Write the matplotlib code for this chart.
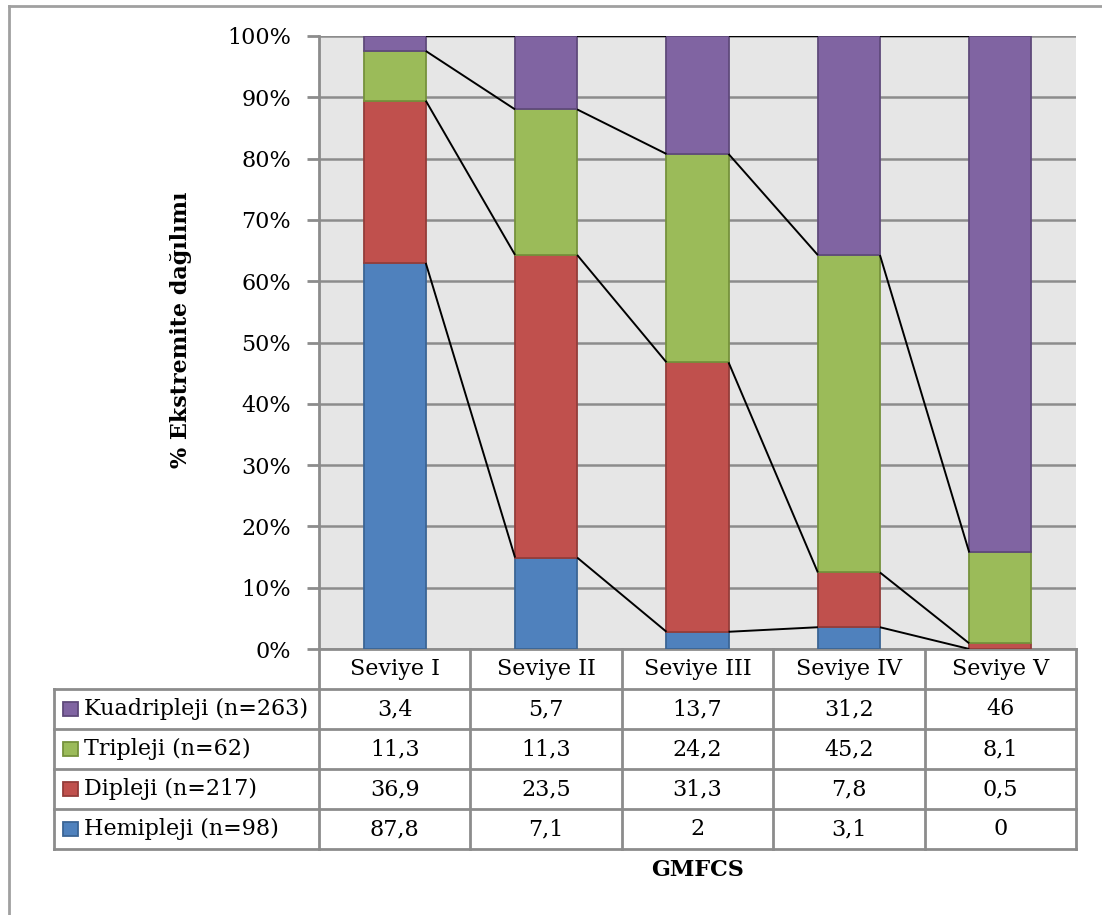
import matplotlib.pyplot as plt
import numpy as np
from matplotlib.lines import Line2D
from matplotlib.patches import Rectangle
from matplotlib.transforms import blended_transform_factory

levels = ["Seviye I", "Seviye II", "Seviye III", "Seviye IV", "Seviye V"]
types = ["Hemipleji (n=98)", "Dipleji (n=217)", "Tripleji (n=62)", "Kuadripleji (n=263)"]
hemi = [87.8, 7.1, 2, 3.1, 0]
dip = [36.9, 23.5, 31.3, 7.8, 0.5]
tri = [11.3, 11.3, 24.2, 45.2, 8.1]
kuad = [3.4, 5.7, 13.7, 31.2, 46]

colors = ["#4f81bd", "#c0504d", "#9bbb59", "#8064a2"]
edges = ["#3b6595", "#943d3a", "#76923c", "#5f4a7b"]
gray = "#8c8c8c"

plt.rcParams['font.family'] = ['DejaVu Serif']
fs = 16

W, H = 1102, 915
fig = plt.figure(figsize=(W / 100, H / 100), dpi=100)
ax = fig.add_axes([319 / W, 1 - 649 / H, (1076 - 319) / W, (649 - 36) / H])
ax.set_facecolor("#e6e6e6")

data = np.array([hemi, dip, tri, kuad], dtype=float)
pct = data / data.sum(axis=0) * 100
x = np.arange(len(levels))
w = 0.41

bottom = np.zeros(len(levels))
tops = []
for k in range(len(types)):
    ax.bar(x, pct[k], w, bottom=bottom, color=colors[k], edgecolor=edges[k],
           linewidth=1.3, zorder=3)
    bottom = bottom + pct[k]
    tops.append(bottom.copy())

# series lines between neighbouring bars
for top in tops:
    for i in range(len(levels) - 1):
        ax.plot([x[i] + w / 2, x[i + 1] - w / 2], [top[i], top[i + 1]],
                color="black", lw=1.4, zorder=4, solid_capstyle="butt")

ax.set_xlim(-0.5, len(levels) - 0.5)
ax.set_ylim(0, 100)
ax.set_yticks(np.arange(0, 101, 10))
ax.set_yticklabels([f"{v}%" for v in range(0, 101, 10)], fontsize=fs)
ax.yaxis.grid(True, color=gray, lw=1.8)
ax.set_axisbelow(True)
ax.set_xticks([])
ax.tick_params(axis="y", length=9, width=2, color=gray, pad=11)
for s in ["top", "right"]:
    ax.spines[s].set_visible(False)
ax.spines["left"].set_color(gray)
ax.spines["left"].set_linewidth(2)
ax.spines["bottom"].set_color(gray)
ax.spines["bottom"].set_linewidth(2)

ax.set_ylabel("% Ekstremite dağılımı", fontsize=fs, fontweight="bold")
ax.yaxis.set_label_coords(-0.168, 0.52)

# data table under the plot
tr = blended_transform_factory(ax.transData, fig.transFigure)
ftr = fig.transFigure
row_h = 40
y0 = 649
rows_y = [y0 + row_h * r for r in range(6)]


def fy(py):
    return 1 - py / H


def hline(xa, xb, py, transform):
    fig.add_artist(Line2D([xa, xb], [fy(py), fy(py)], transform=transform,
                          color=gray, lw=2))


def vline(xa, pa, pb, transform):
    fig.add_artist(Line2D([xa, xa], [fy(pa), fy(pb)], transform=transform,
                          color=gray, lw=2))


for py in rows_y[1:]:
    hline(-0.5, len(levels) - 0.5, py, tr)
    hline(54 / W, 319 / W, py, ftr)
for i in range(len(levels) + 1):
    vline(i - 0.5, rows_y[0], rows_y[-1], tr)
vline(54 / W, rows_y[1], rows_y[-1], ftr)

for i, lab in enumerate(levels):
    fig.text(i, fy(rows_y[0] + row_h / 2), lab, transform=tr, fontsize=fs,
             ha="center", va="center")

order = [3, 2, 1, 0]
for r, k in enumerate(order):
    cy = fy(rows_y[r + 1] + row_h / 2)
    fig.add_artist(Rectangle((63 / W, cy - 7 / H), 15 / W, 14 / H, transform=ftr,
                             facecolor=colors[k], edgecolor=edges[k], lw=1.3))
    fig.text(84 / W, cy, types[k], transform=ftr, fontsize=fs, ha="left", va="center")
    for i in range(len(levels)):
        txt = f"{data[k, i]:g}".replace(".", ",")
        fig.text(i, cy, txt, transform=tr, fontsize=fs, ha="center", va="center")

fig.text(0.5 * (319 + 1076) / W, fy(870), "GMFCS", fontsize=fs, fontweight="bold",
         ha="center", va="center")

# outer chart border
fig.add_artist(Line2D([9 / W, 1], [fy(6), fy(6)], transform=ftr, color="#a0a0a0", lw=2))
fig.add_artist(Line2D([9 / W, 9 / W], [fy(6), 0], transform=ftr, color="#a0a0a0", lw=2))

fig.savefig("out.png", dpi=100)
